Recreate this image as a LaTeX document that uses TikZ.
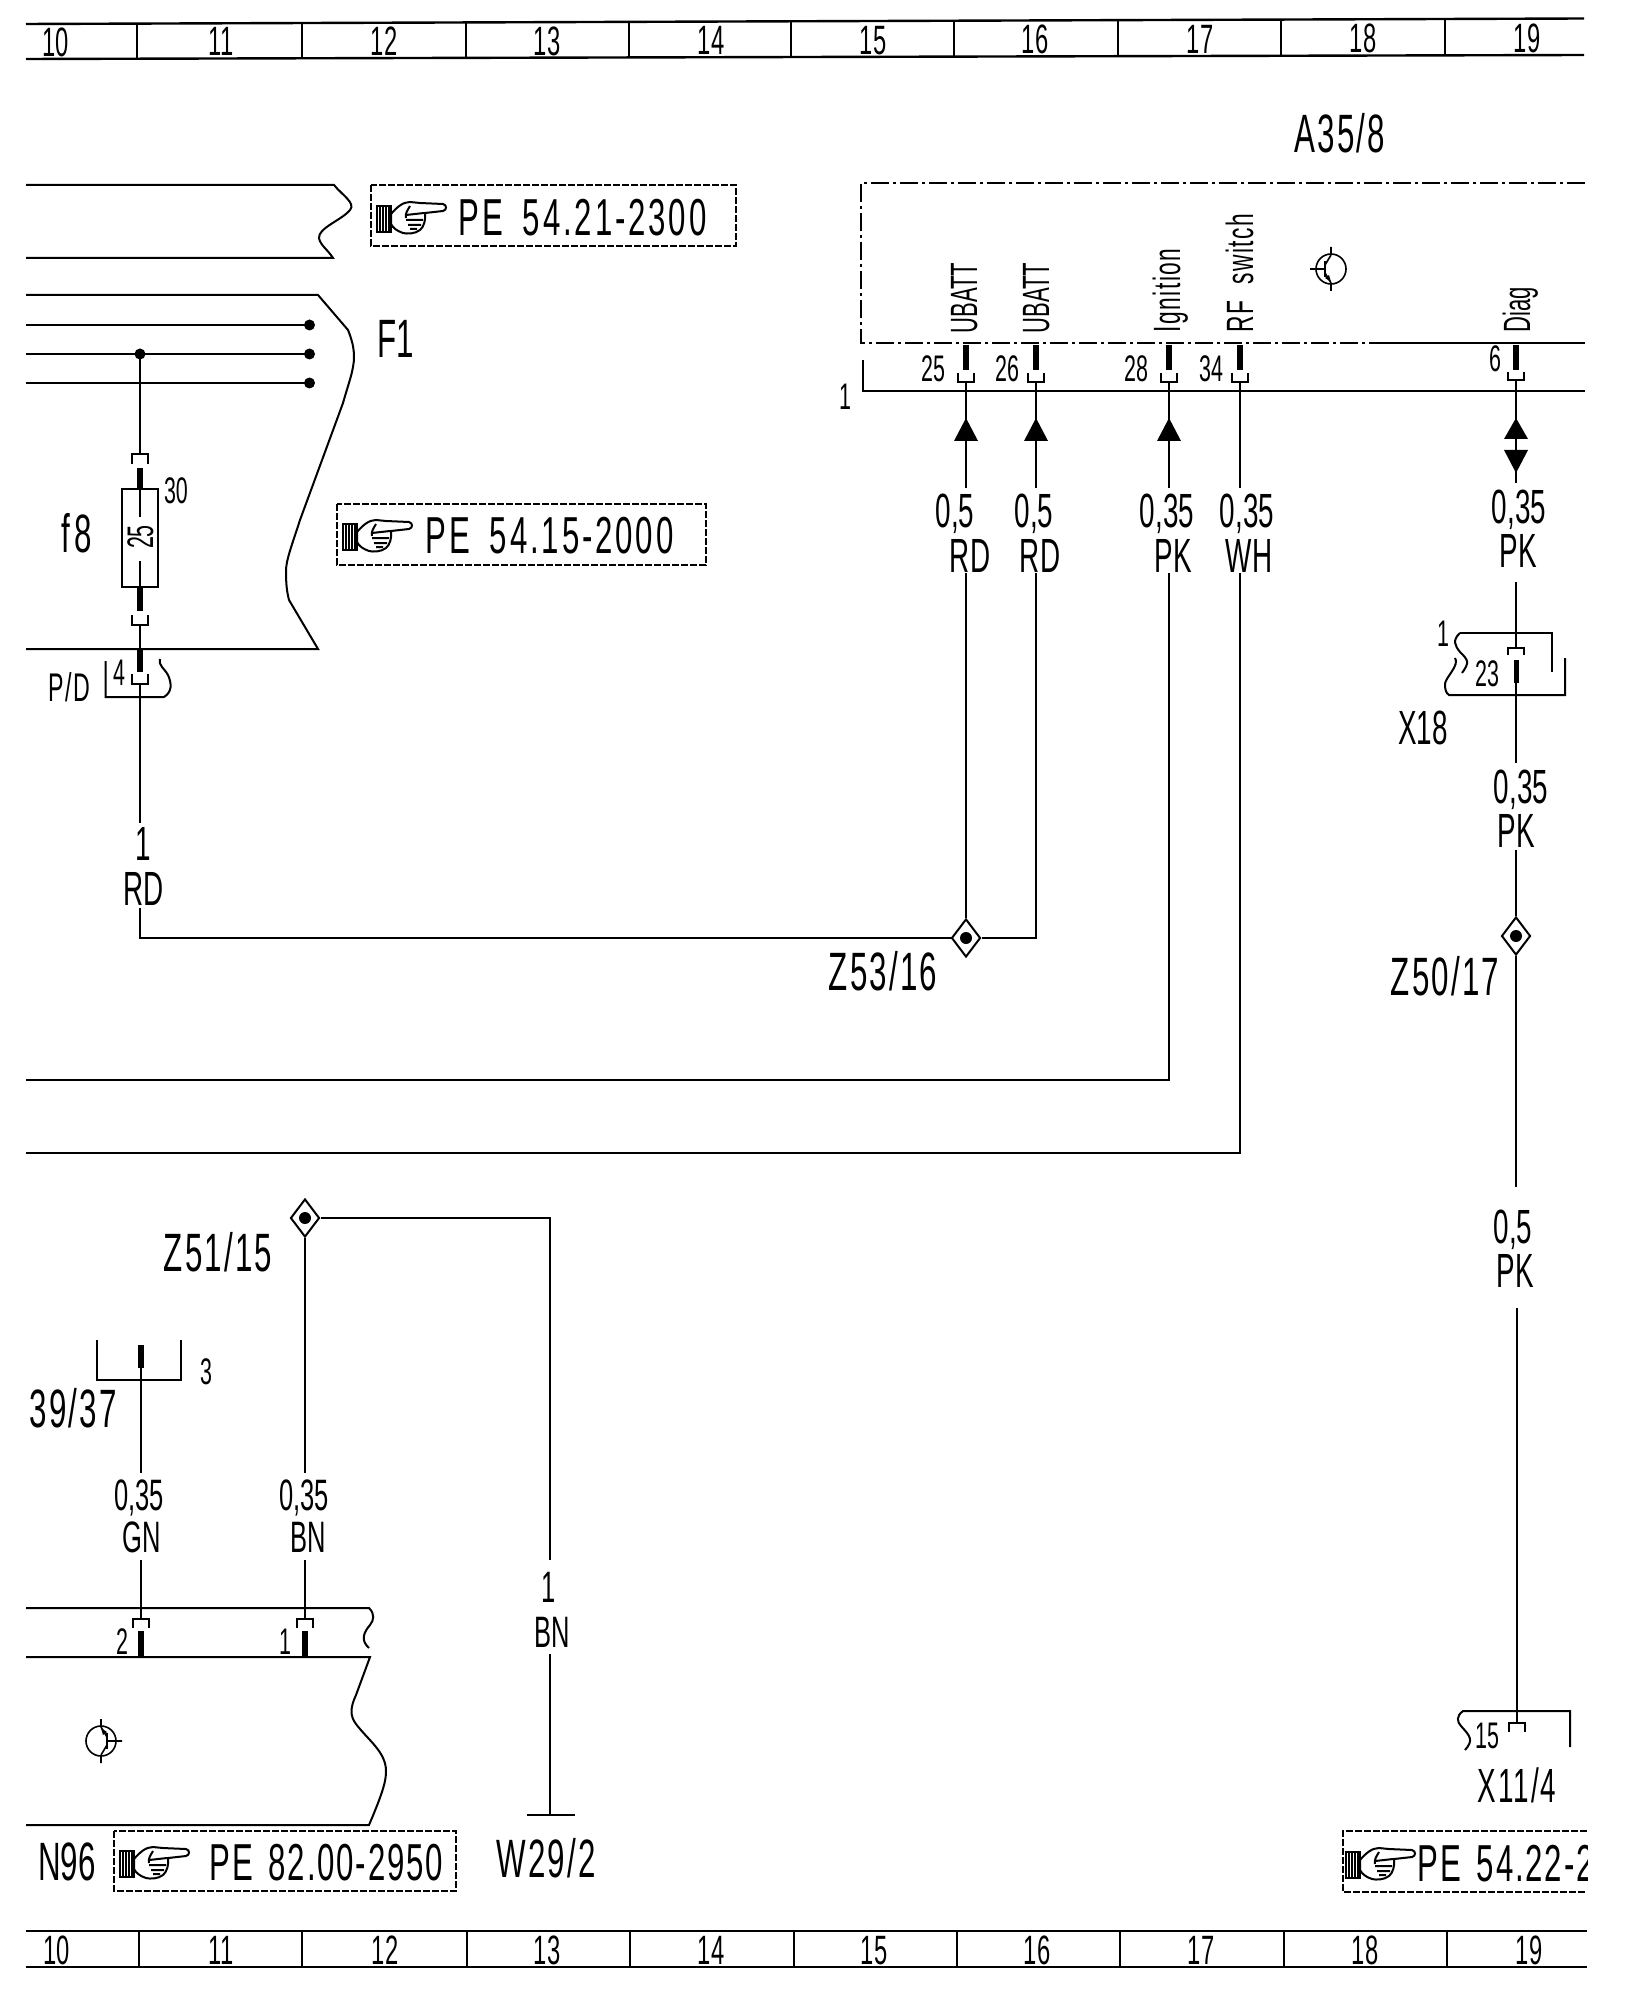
\documentclass[tikz,border=0pt]{standalone}
\usepackage{fontspec}
\usetikzlibrary{shapes.geometric}
\setmainfont{Liberation Sans}
\newfontfamily\nar[FakeStretch=0.58]{Liberation Sans}
\newfontfamily\narw[FakeStretch=0.58,LetterSpace=4]{Liberation Sans}
\newfontfamily\pef[FakeStretch=0.6,LetterSpace=4]{Liberation Sans}
\newfontfamily\pefw[FakeStretch=0.6,LetterSpace=5.5]{Liberation Sans}
\newfontfamily\pefn[FakeStretch=0.6,LetterSpace=3.5]{Liberation Sans}
\tikzset{
 wire/.style={line width=0.9pt},
 frameline/.style={line width=1pt},
 thickpin/.style={line width=2.6pt},
 cupline/.style={line width=1.2pt},
 lab/.style={inner sep=0pt,text height=17pt,text depth=0pt,font=\nar\fontsize{24}{26}\selectfont},
 labs/.style={inner sep=0pt,text height=15.5pt,text depth=0pt,font=\nar\fontsize{22}{24}\selectfont},
 labw/.style={inner sep=0pt,text height=17pt,text depth=0pt,font=\narw\fontsize{24}{26}\selectfont},
 rulernum/.style={inner sep=0pt,text height=14pt,text depth=0pt,font=\nar\fontsize{20.5}{22}\selectfont},
 small/.style={inner sep=0pt,text height=13pt,text depth=0pt,font=\nar\fontsize{18.5}{20}\selectfont},
 bigl/.style={inner sep=0pt,text height=19pt,text depth=0pt,font=\nar\fontsize{27}{29}\selectfont},
 bigw/.style={inner sep=0pt,text height=19pt,text depth=0pt,font=\narw\fontsize{27}{29}\selectfont},
 peref/.style={inner sep=0pt,anchor=west,text height=18.5pt,text depth=0pt,font=\pefw\fontsize{26}{28}\selectfont},
 perefn/.style={inner sep=0pt,anchor=west,text height=18.5pt,text depth=0pt,font=\pefn\fontsize{26}{28}\selectfont},
 rotn/.style={inner sep=0pt,rotate=90,anchor=base west,font=\nar\fontsize{19}{21}\selectfont},
 rotw/.style={inner sep=0pt,rotate=90,anchor=base west,font=\pef\fontsize{19}{21}\selectfont},
 pebox/.style={line width=0.9pt,dash pattern=on 3.5pt off 1pt},
 cpt/.style={draw,diamond,inner sep=0pt,minimum width=14.5pt,minimum height=19pt,line width=1pt},
 pointerhand/.pic={
  \draw[line width=0.9pt] (0,-13) rectangle (14,13);
  \draw[line width=0.6pt] (3,-13)--(3,13) (6,-13)--(6,13) (9,-13)--(9,13) (12,-13)--(12,13);
  \draw[line width=1pt] (14,-5) .. controls (20,-12) and (26,-17) .. (33,-17) -- (43,-16) -- (66,-15)
    .. controls (70,-14) and (70,-9) .. (66,-8) -- (48,-6) .. controls (49,0) and (47,8) .. (43,11)
    .. controls (38,15) and (30,15) .. (26,14) .. controls (20,12) and (16,9) .. (14,5) -- cycle;
  \draw[line width=1pt] (29,-4)--(47,-6) (29,1)--(46,1) (31,6)--(44,6) (33,10)--(40,10)
    (33,-13) .. controls (30,-8) and (28,-5) .. (29,-1);
 },
 transsym/.pic={
  \draw[line width=0.8pt] (0,0) circle (15);
  \draw[line width=0.8pt] (0,-22)--(0,-14) (0,14)--(0,22) (-21,0)--(-6,0) (-6,-4)--(0,-14) (-6,4)--(0,14);
  \draw[line width=1.4pt] (-6,-8)--(-6,8);
  \fill (0,13)--(-6,9)--(-2,6)--cycle;
 }
}
\newcommand\cupU[3]{\draw[cupline] (#1-8,#2)--(#1-8,#3)--(#1+8,#3)--(#1+8,#2);}
\newcommand\capN[3]{\draw[cupline] (#1-8,#3)--(#1-8,#2)--(#1+8,#2)--(#1+8,#3);}
\newcommand\triUp[3]{\fill (#1,#2)--(#1-12,#3)--(#1+12,#3)--cycle;}
\begin{document}
\begin{tikzpicture}[x=0.5pt,y=-0.5pt]
\useasboundingbox (0,0) rectangle (1632,2000);
\fill[white] (0,0) rectangle (1632,2000);

% ---- rulers
\draw[line width=1.2pt] (26,24)--(1584,18.5) (26,59)--(1584,55);
\foreach \t in {137,302,466,629,791,954,1118,1281,1445}
  \draw[line width=0.9pt] (\t,{24-5.5*(\t-26)/1558})--(\t,{59-4*(\t-26)/1558});
\foreach \n/\xp in {10/56,11/221,12/384,13/547,14/711,15/873,16/1035,17/1200,18/1363,19/1527}
  \node[rulernum] (top\n) at (\xp,{42.5-4*\xp/1527}) {\n};
\draw[line width=1.2pt] (26,1931)--(1587,1931) (26,1967)--(1587,1967);
\foreach \t in {139,302,467,630,794,957,1120,1284,1447} \draw[line width=0.9pt] (\t,1931)--(\t,1967);
\foreach \n/\xp in {10/57,11/221,12/385,13/547,14/711,15/874,16/1037,17/1201,18/1365,19/1529}
  \node[rulernum] (bot\n) at (\xp,1950) {\n};

% ---- upper block
\draw[frameline] (26,185)--(334,185) .. controls (342,195) and (356,203) .. (350,210)
  .. controls (342,220) and (318,228) .. (319,238) .. controls (320,245) and (328,250) .. (333,258) -- (26,258);

% ---- F1 block
\draw[frameline] (26,295)--(318,295)--(348,330) .. controls (352,340) and (354,348) .. (354,357)
  .. controls (354,370) and (348,385) .. (343,403) -- (300,520) .. controls (292,545) and (286,560) .. (286,571)
  .. controls (286,585) and (287,592) .. (289,600) -- (318,649) -- (26,649);
\coordinate (b1l) at (26,325); \coordinate (b2l) at (26,354); \coordinate (b3l) at (26,383);
\coordinate (b1r) at (309.5,325); \coordinate (b2r) at (309.5,354); \coordinate (b3r) at (309.5,383);
\coordinate (fj) at (140,354);
\draw[wire] (b1l)--(b1r) (b2l)--(b2r) (b3l)--(b3r);
\fill (b1r) circle (5.5) (b2r) circle (5.5) (b3r) circle (5.5) (fj) circle (5.5);
\node[bigl] (f1lab) at (396,339) {F1};

% ---- fuse f8
\coordinate (fct) at (140,454);
\draw[wire] (fj)--(fct);
\capN{140}{454}{464}
\draw[thickpin] (140,468)--(140,489);
\draw[line width=1.1pt] (122,489) rectangle (158,587);
\draw[wire] (140,489)--(140,517) (140,561)--(140,587);
\node[small,rotate=90] (fusev) at (140,537) {25};
\node[small] (n30) at (176,490) {30};
\node[bigw] (f8lab) at (77,533) {f\hspace{2pt}8};
\draw[thickpin] (140,587)--(140,611);
\cupU{140}{615}{625}
\draw[wire] (140,625)--(140,649);
\draw[thickpin] (140,649)--(140,672);
\cupU{140}{674}{684}
\draw[frameline] (105.5,661)--(105.5,697)--(164,697) .. controls (172,692) and (172,684) .. (168,675) .. controls (164,668) and (158,665) .. (160,659);
\node[small] (n4) at (119,672) {4};
\node[small,font=\narw\fontsize{20}{22}\selectfont] (pd) at (69,688) {P/D};

% ---- wire from f8 to Z53/16
\coordinate (w1a) at (140,684); \coordinate (w1b) at (140,823);
\coordinate (w1c) at (140,908); \coordinate (w1d) at (140,938);
\draw[wire] (w1a)--(w1b);
\node[lab] (l1a) at (143,843) {1};
\node[lab] (l1b) at (144,888) {RD};

% ---- A35/8 block
\node[bigw] (a35) at (1340,134) {A35/8};
\draw[line width=1pt,dash pattern=on 9pt off 2pt on 1.5pt off 2pt] (1585,183)--(861,183)--(861,343)--(1370,343);
\draw[line width=1.3pt] (1370,343)--(1585,343);
\draw[frameline] (863,360)--(863,391)--(1585,391);
\node[small] (one) at (845,397) {1};
\foreach \xp/\nn/\xl in {966/25/933,1036/26/1007,1169/28/1136,1240/34/1211}{
  \draw[thickpin] (\xp,345)--(\xp,370);
  \cupU{\xp}{373}{382}
  \node[small] (pin\nn) at (\xl,369) {\nn};
}
\draw[thickpin] (1516,345)--(1516,370);
\cupU{1516}{372}{380}
\node[small] (pin6) at (1495,359) {6};
\node[rotn] (ub1) at (977,334) {UBATT};
\node[rotn] (ub2) at (1049,334) {UBATT};
\node[rotw] (ign) at (1180,333) {Ignition};
\node[rotw] (rfs) at (1253,333) {RF\hspace{4pt} switch};
\node[rotn] (dia) at (1530,333) {Diag};
\pic at (1331,269) {transsym};

% ---- Z53/16 junction
\node[cpt] (z53) at (966,938) {};
\fill (z53.center) circle (6);
\node[bigw] (z53l) at (883,971) {Z53/16};

% pin wires (upper run)
\coordinate (p25) at (966,382); \coordinate (e25) at (966,488); \coordinate (s25) at (966,573);
\coordinate (p26) at (1036,382); \coordinate (e26) at (1036,488); \coordinate (s26) at (1036,573); \coordinate (c26) at (1036,938);
\coordinate (p28) at (1169,382); \coordinate (e28) at (1169,488); \coordinate (s28) at (1169,573); \coordinate (c28) at (1169,1080); \coordinate (l28) at (26,1080);
\coordinate (p34) at (1240,382); \coordinate (e34) at (1240,488); \coordinate (s34) at (1240,573); \coordinate (c34) at (1240,1153); \coordinate (l34) at (26,1153);
\draw[wire] (p25)--(e25) (s25)--(z53.north);
\draw[wire] (p26)--(e26) (s26)--(c26)--(z53.east);
\draw[wire] (z53.west)--(w1d)--(w1c);
\draw[wire] (p28)--(e28) (s28)--(c28)--(l28);
\draw[wire] (p34)--(e34) (s34)--(c34)--(l34);
\triUp{966}{418}{441}
\triUp{1036}{418}{441}
\triUp{1169}{418}{441}
\node[lab] (l25a) at (955,510) {0,5};
\node[lab] (l25b) at (970,555) {RD};
\node[lab] (l26a) at (1034,510) {0,5};
\node[lab] (l26b) at (1040,555) {RD};
\node[lab] (l28a) at (1167,510) {0,35};
\node[lab] (l28b) at (1173,555) {PK};
\node[lab] (l34a) at (1247,510) {0,35};
\node[lab] (l34b) at (1249,555) {WH};

% ---- Diag wire
\coordinate (d0) at (1516,380); \coordinate (d1) at (1516,483);
\draw[wire] (d0)--(d1);
\triUp{1516}{418}{439}
\fill (1516,473)--(1504,450)--(1528,450)--cycle;
\node[lab] (d35) at (1519,506) {0,35};
\node[lab] (dpk) at (1518,550) {PK};
\coordinate (d2) at (1516,582); \coordinate (d3) at (1516,648);
\draw[wire] (d2)--(d3);

% X18
\draw[frameline] (1460,633)--(1552,633)--(1552,672);
\draw[frameline] (1460,633) .. controls (1452,640) and (1455,646) .. (1460,652) .. controls (1468,660) and (1470,662) .. (1462,673);
\draw[frameline] (1455,658) .. controls (1460,665) and (1445,678) .. (1445,684) .. controls (1445,690) and (1446,693) .. (1449,695) -- (1565,695)--(1565,658);
\capN{1516}{648}{655}
\draw[thickpin] (1516.5,660)--(1516.5,683);
\node[small] (x1) at (1443,633) {1};
\node[small] (x23) at (1487,673) {23};
\node[lab] (x18) at (1423,727) {X18};
\coordinate (x0) at (1516,683); \coordinate (x1e) at (1516,763);
\draw[wire] (x0)--(x1e);
\node[lab] (x35) at (1521,786) {0,35};
\node[lab] (xpk) at (1516,830) {PK};
\node[cpt] (z50) at (1516,936) {};
\fill (z50.center) circle (6);
\node[bigw] (z50l) at (1445,976) {Z50/17};
\coordinate (x2) at (1516,850); \coordinate (x3) at (1516,1187);
\draw[wire] (x2)--(z50.north) (z50.south)--(x3);
\node[lab] (y5) at (1513,1226) {0,5};
\node[lab] (ypk) at (1515,1270) {PK};
\coordinate (x4) at (1517,1308); \coordinate (x5) at (1517,1723);
\draw[wire] (x4)--(x5);

% X11/4
\draw[frameline] (1570,1747)--(1570,1711)--(1463,1711) .. controls (1456,1716) and (1457,1722) .. (1461,1726) .. controls (1470,1736) and (1474,1740) .. (1465,1750);
\capN{1517}{1723}{1732}
\node[small] (x15) at (1487,1735) {15};
\node[labw] (x114) at (1517,1785) {X11/4};

% ---- Z51/15
\node[cpt] (z51) at (305,1218) {};
\fill (z51.center) circle (6);
\node[bigw] (z51l) at (218,1252) {Z51/15};
\coordinate (zr) at (550,1218); \coordinate (ze) at (550,1560); \coordinate (zs) at (550,1654); \coordinate (zg) at (550,1815);
\draw[wire] (z51.east)--(zr)--(ze) (zs)--(zg);
\draw[line width=1.2pt] (527,1815)--(575,1815);
\node[labs] (g1) at (549,1587) {1};
\node[labs] (gbn) at (552,1632) {BN};
\node[bigw] (w29) at (546,1858) {W29/2};
\coordinate (ve) at (305,1473); \coordinate (vs) at (305,1560); \coordinate (vc) at (305,1619);
\draw[wire] (z51.south)--(ve) (vs)--(vc);
\node[labs] (b35) at (304,1495) {0,35};
\node[labs] (bbn) at (308,1537) {BN};

% 39/37 connector
\draw[frameline] (97,1340)--(97,1380)--(181,1380)--(181,1340);
\draw[thickpin] (141,1345)--(141,1368);
\node[small] (c3) at (206,1371) {3};
\node[bigw] (c39) at (73,1408) {39/37};
\coordinate (ca) at (141,1368); \coordinate (cb) at (141,1473); \coordinate (cc) at (141,1560); \coordinate (cd) at (141,1619);
\draw[wire] (ca)--(cb) (cc)--(cd);
\node[labs] (g35) at (139,1495) {0,35};
\node[labs] (ggn) at (142,1537) {GN};

% ---- N96 block
\draw[frameline] (26,1608)--(369,1608) .. controls (375,1614) and (374,1620) .. (370,1625) .. controls (364,1632) and (360,1640) .. (369,1648);
\draw[frameline] (26,1657)--(370,1657)--(356,1695) .. controls (350,1708) and (350,1716) .. (356,1724) .. controls (368,1740) and (386,1752) .. (386,1771) .. controls (386,1780) and (384,1790) .. (369,1825) -- (26,1825);
\capN{141}{1619}{1628}
\capN{305}{1619}{1628}
\draw[thickpin] (141,1631)--(141,1657);
\draw[thickpin] (305,1631)--(305,1657);
\node[small] (n2) at (122,1641) {2};
\node[small] (n1) at (285,1641) {1};
\pic[rotate=180] at (101,1741) {transsym};
\node[bigl] (n96) at (67,1861) {N96};

% ---- PE references
\draw[pebox] (371,185) rectangle (736,246);
\pic at (377,219) {pointerhand};
\node[peref] (pe1) at (458,217) {PE\hspace{10pt}54.21-2300};
\draw[pebox] (337,504) rectangle (706,565);
\pic at (343,537) {pointerhand};
\node[peref] (pe2) at (425,535) {PE\hspace{10pt}54.15-2000};
\draw[pebox] (114,1831) rectangle (456,1891);
\pic at (120,1864) {pointerhand};
\node[perefn] (pe3) at (209,1862) {PE\hspace{8pt}82.00-2950};
\draw[pebox] (1587,1831)--(1343,1831)--(1343,1892)--(1587,1892);
\pic at (1346,1865) {pointerhand};
\begin{scope}
\clip (1400,1835) rectangle (1587,1890);
\node[perefn] (pe4) at (1417,1863) {PE\hspace{8pt}54.22-2};
\end{scope}
\end{tikzpicture}
\end{document}
